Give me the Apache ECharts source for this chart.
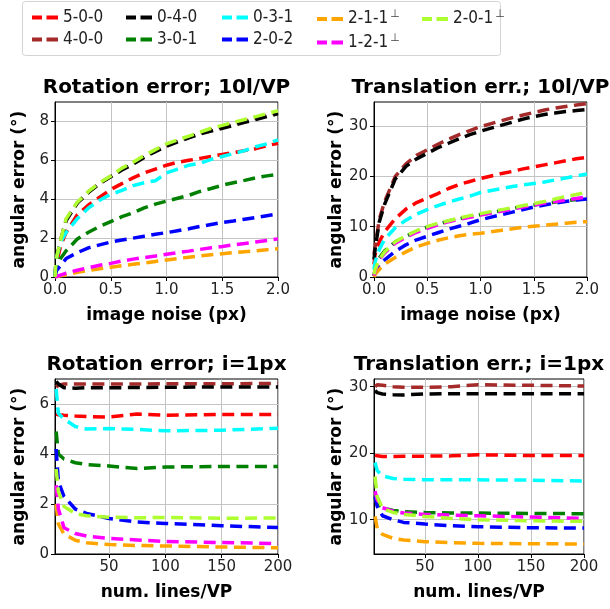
<!DOCTYPE html>
<html>
<head>
<meta charset="utf-8">
<script src="https://cdn.jsdelivr.net/npm/echarts@6/dist/echarts.min.js"></script>
<style>
  html, body { margin: 0; padding: 0; background: #fff; }
  #chart { width: 610px; height: 609px; }
</style>
</head>
<body>
<div id="chart"></div>
<script>
// series order as in the legend (column-major)
const names = ['5-0-0', '4-0-0', '0-4-0', '3-0-1', '0-3-1', '2-0-2', '2-1-1⊥', '1-2-1⊥', '2-0-1⊥'];
const colors = ['#ff0000', '#a52a2a', '#000000', '#008000', '#00ffff', '#0000ff', '#ffa500', '#ff00ff', '#adff2f'];

// x values
const noiseX = [0, 0.01, 0.05, 0.1, 0.2, 0.3, 0.4, 0.5, 0.6, 0.7, 0.8, 0.9, 1.0, 1.1, 1.2, 1.3, 1.4, 1.5, 1.6, 1.7, 1.8, 1.9, 2.0];
const linesX = [3, 5, 10, 20, 30, 50, 75, 100, 150, 200];

// rotation error vs image noise (10 lines/VP), one row per name
const rotNoise = [
  [0, 0.6, 1.6, 2.3, 3.2, 3.7, 4.1, 4.5, 4.8, 5.1, 5.35, 5.55, 5.75, 5.9, 6.0, 6.1, 6.2, 6.3, 6.4, 6.5, 6.6, 6.75, 6.88],
  [0, 0.88, 1.88, 2.95, 3.82, 4.38, 4.82, 5.18, 5.55, 5.85, 6.2, 6.5, 6.78, 7.0, 7.2, 7.4, 7.57, 7.72, 7.87, 8.02, 8.17, 8.32, 8.47],
  [0, 0.85, 1.85, 2.9, 3.8, 4.35, 4.8, 5.15, 5.5, 5.8, 6.15, 6.45, 6.72, 6.95, 7.15, 7.35, 7.5, 7.65, 7.8, 7.95, 8.1, 8.25, 8.4],
  [0, 0.4, 0.95, 1.35, 1.95, 2.3, 2.6, 2.85, 3.1, 3.3, 3.55, 3.75, 3.9, 4.05, 4.2, 4.4, 4.55, 4.72, 4.85, 4.97, 5.1, 5.2, 5.28],
  [0, 0.9, 1.8, 2.3, 3.0, 3.55, 3.95, 4.25, 4.45, 4.7, 4.85, 4.95, 5.35, 5.55, 5.75, 5.85, 6.05, 6.2, 6.35, 6.5, 6.7, 6.85, 7.05],
  [0, 0.3, 0.6, 0.95, 1.25, 1.5, 1.65, 1.8, 1.9, 2.0, 2.1, 2.2, 2.28, 2.38, 2.48, 2.6, 2.7, 2.8, 2.88, 2.97, 3.06, 3.15, 3.24],
  [0, 0.01, 0.06, 0.12, 0.24, 0.33, 0.42, 0.5, 0.58, 0.65, 0.72, 0.8, 0.88, 0.95, 1.02, 1.08, 1.14, 1.2, 1.25, 1.3, 1.35, 1.4, 1.45],
  [0, 0.02, 0.1, 0.2, 0.35, 0.48, 0.6, 0.7, 0.82, 0.92, 1.0, 1.08, 1.17, 1.25, 1.33, 1.42, 1.5, 1.57, 1.65, 1.72, 1.8, 1.88, 1.96],
  [0, 0.9, 1.9, 3.0, 3.85, 4.4, 4.85, 5.2, 5.6, 5.9, 6.25, 6.55, 6.85, 7.05, 7.25, 7.45, 7.65, 7.8, 7.95, 8.1, 8.25, 8.4, 8.55]
];

// translation error vs image noise (10 lines/VP)
const transNoise = [
  [2.5, 4.5, 7, 9, 11.6, 13.5, 14.8, 15.7, 16.6, 17.6, 18.4, 19.0, 19.6, 20.1, 20.6, 21.0, 21.5, 21.9, 22.3, 22.7, 23.1, 23.5, 23.8],
  [4.5, 6, 11.5, 15, 20, 22.5, 24.2, 25.3, 26.4, 27.4, 28.3, 29.1, 29.9, 30.5, 31.1, 31.7, 32.2, 32.7, 33.2, 33.6, 33.9, 34.2, 34.5],
  [3.5, 5.5, 11, 14.5, 19.5, 22, 23.5, 24.6, 25.7, 26.6, 27.5, 28.3, 29.0, 29.6, 30.2, 30.8, 31.4, 31.9, 32.3, 32.6, 32.9, 33.1, 33.3],
  [0.3, 1.5, 3.8, 5.2, 7, 8.1, 9.1, 9.9, 10.5, 11.1, 11.6, 12.0, 12.4, 12.8, 13.2, 13.6, 14.0, 14.3, 14.6, 14.9, 15.2, 15.4, 15.6],
  [1.5, 3, 5.5, 7.5, 9.8, 11.3, 12.5, 13.4, 14.2, 14.9, 15.5, 16.1, 16.8, 17.2, 17.6, 18.0, 18.3, 18.6, 18.9, 19.3, 19.7, 20.1, 20.5],
  [0.2, 1, 2.5, 3.4, 5.1, 6.4, 7.4, 8.1, 8.8, 9.5, 10.1, 10.7, 11.4, 11.9, 12.4, 12.9, 13.4, 13.9, 14.3, 14.7, 15.0, 15.3, 15.5],
  [0, 0.5, 1.5, 2.6, 3.9, 5.0, 6.0, 6.7, 7.3, 7.8, 8.2, 8.5, 8.7, 9.0, 9.3, 9.6, 9.9, 10.1, 10.3, 10.5, 10.7, 10.9, 11.0],
  [0.3, 1.2, 3.4, 4.8, 6.7, 7.9, 8.9, 9.7, 10.4, 11.0, 11.5, 11.9, 12.3, 12.7, 13.1, 13.5, 13.9, 14.3, 14.7, 15.0, 15.3, 15.6, 15.9],
  [0.5, 1.5, 3.5, 5, 7, 8.2, 9.2, 10.0, 10.7, 11.2, 11.7, 12.2, 12.6, 13.0, 13.4, 13.8, 14.2, 14.6, 15.0, 15.5, 16.0, 16.4, 16.9]
];

// rotation error vs lines per VP (i = 1px)
const rotLines = [
  [5.6, 5.57, 5.55, 5.52, 5.5, 5.48, 5.6, 5.55, 5.58, 5.58],
  [6.68, 6.75, 6.8, 6.8, 6.8, 6.8, 6.8, 6.81, 6.81, 6.82],
  [6.9, 6.8, 6.65, 6.63, 6.65, 6.65, 6.66, 6.67, 6.68, 6.68],
  [4.9, 4.0, 3.8, 3.65, 3.58, 3.52, 3.42, 3.48, 3.5, 3.5],
  [6.6, 5.62, 5.4, 5.1, 5.0, 5.02, 4.98, 4.93, 4.95, 5.03],
  [4.2, 2.9, 2.3, 1.8, 1.62, 1.42, 1.28, 1.22, 1.13, 1.06],
  [2.0, 1.2, 0.8, 0.55, 0.45, 0.38, 0.34, 0.32, 0.28, 0.25],
  [2.75, 1.8, 1.05, 0.82, 0.72, 0.62, 0.56, 0.5, 0.46, 0.42],
  [3.4, 2.5, 1.9, 1.62, 1.53, 1.47, 1.45, 1.46, 1.43, 1.44]
];

// translation error vs lines per VP (i = 1px)
const transLines = [
  [19.7, 19.6, 19.5, 19.5, 19.55, 19.55, 19.6, 19.75, 19.65, 19.65],
  [30.0, 30.3, 30.2, 30.0, 29.9, 29.9, 30.0, 30.3, 30.2, 30.1],
  [29.4, 29.1, 28.9, 28.8, 28.75, 28.9, 28.95, 28.95, 28.95, 28.95],
  [13.5, 12.5, 11.8, 11.4, 11.2, 11.1, 11.0, 11.0, 10.95, 10.9],
  [18.6, 17.4, 16.6, 16.2, 16.1, 16.0, 16.0, 16.0, 15.95, 15.8],
  [13.5, 12.0, 10.6, 10.0, 9.6, 9.35, 9.1, 8.95, 8.8, 8.75],
  [10.5, 8.7, 7.8, 7.2, 6.95, 6.7, 6.55, 6.45, 6.4, 6.35],
  [14.3, 13.0, 11.8, 11.3, 11.0, 10.8, 10.7, 10.6, 10.4, 10.2],
  [16.5, 13.5, 11.7, 11.1, 10.8, 10.5, 10.2, 10.0, 9.85, 9.75]
];

// tick labels
const noiseTicks = [0, 0.5, 1.0, 1.5, 2.0];
const linesTicks = [50, 100, 150, 200];
const rotNoiseTicks = [0, 2, 4, 6, 8];
const transNoiseTicks = [0, 10, 20, 30];
const rotLinesTicks = [0, 2, 4, 6];
const transLinesTicks = [10, 20, 30];

const titles = ['Rotation error; 10l/VP', 'Translation err.; 10l/VP', 'Rotation error; i=1px', 'Translation err.; i=1px'];

const font = 'DejaVu Sans';
const grids = [
  { left: 55, top: 102, width: 223, height: 175 },
  { left: 374, top: 102, width: 213, height: 175 },
  { left: 55, top: 379, width: 223, height: 175 },
  { left: 374, top: 379, width: 210, height: 175 }
];

function xAxisFor(idx, min, max, ticks, name, fmt) {
  return {
    type: 'value', gridIndex: idx, min: min, max: max,
    name: name, nameLocation: 'middle', nameGap: 30,
    nameTextStyle: { fontFamily: font, fontWeight: 'bold', fontSize: 17, color: '#000' },
    axisLine: { show: true, lineStyle: { color: '#000', width: 1 } },
    axisTick: { show: true, length: 4, customValues: ticks, lineStyle: { color: '#000' } },
    axisLabel: { customValues: ticks, fontFamily: font, fontSize: 15, color: '#222', margin: 6, formatter: fmt },
    splitLine: { show: true, lineStyle: { color: '#c4c4c4', width: 1 } }
  };
}
function yAxisFor(idx, min, max, ticks) {
  return {
    type: 'value', gridIndex: idx, min: min, max: max,
    name: 'angular error (°)', nameLocation: 'middle', nameGap: 27,
    nameTextStyle: { fontFamily: font, fontWeight: 'bold', fontSize: 17, color: '#000' },
    axisLine: { show: true, lineStyle: { color: '#000', width: 1 } },
    axisTick: { show: true, length: 4, customValues: ticks, lineStyle: { color: '#000' } },
    axisLabel: { customValues: ticks, fontFamily: font, fontSize: 15, color: '#222', margin: 6 },
    splitLine: { show: true, lineStyle: { color: '#c4c4c4', width: 1 } }
  };
}

const oneDec = v => v.toFixed(1);
const xAxes = [
  xAxisFor(0, 0, 2, noiseTicks, 'image noise (px)', oneDec),
  xAxisFor(1, 0, 2, noiseTicks, 'image noise (px)', oneDec),
  xAxisFor(2, 2, 200, linesTicks, 'num. lines/VP'),
  xAxisFor(3, 2, 200, linesTicks, 'num. lines/VP')
];
const yAxes = [
  yAxisFor(0, 0, 9, rotNoiseTicks),
  yAxisFor(1, 0, 34.8, transNoiseTicks),
  yAxisFor(2, 0, 7, rotLinesTicks),
  yAxisFor(3, 4.85, 31.15, transLinesTicks)
];

const panels = [
  { xs: noiseX, ys: rotNoise },
  { xs: noiseX, ys: transNoise },
  { xs: linesX, ys: rotLines },
  { xs: linesX, ys: transLines }
];

const series = [];
panels.forEach((p, gi) => {
  p.ys.forEach((vals, si) => {
    series.push({
      name: names[si], type: 'line', xAxisIndex: gi, yAxisIndex: gi,
      data: vals.map((v, k) => [p.xs[k], v]),
      symbol: 'none', smooth: false, animation: false,
      lineStyle: { color: colors[si], width: 3.5, type: [12, 6.5], cap: 'butt' },
      itemStyle: { color: colors[si] }
    });
  });
});

// legend: 5 columns x 2 rows, icon = two short dashes
const dashIcon = 'path://M0,0h10v4h-10z M14.5,0h11.5v4h-11.5z';
const legendCols = [[0, 1], [2, 3], [4, 5], [6, 7], [8]];
const legendLeft = [27, 121, 217, 312, 417];
const legends = legendCols.map((col, ci) => ({
  orient: 'vertical', left: legendLeft[ci], top: 4,
  icon: dashIcon, symbolKeepAspect: false,
  itemWidth: 26, itemHeight: 4, itemGap: 5,
  data: col.map(i => names[i]),
  formatter: n => n.endsWith('⊥') ? '{n|' + n.slice(0, -1) + '}{s|⊥}' : '{n|' + n + '}',
  textStyle: {
    color: '#222',
    rich: {
      n: { fontFamily: "'Liberation Sans Narrow', 'DejaVu Sans Condensed', sans-serif", fontSize: 17, color: '#222', height: 20 },
      s: { fontFamily: font, fontSize: 11, color: '#444', padding: [0, 0, 9, 2] }
    }
  }
}));

const titleCfg = titles.map((t, i) => ({
  text: t, left: grids[i].left + grids[i].width / 2 - 5, textAlign: 'center',
  top: grids[i].top - 29,
  textStyle: { fontFamily: font, fontWeight: 'bold', fontSize: 20, color: '#000' }
}));

const option = {
  backgroundColor: '#fff',
  animation: false,
  title: titleCfg,
  legend: legends,
  grid: grids.map(g => Object.assign({ show: true, borderColor: '#000', borderWidth: 1, containLabel: false }, g)),
  xAxis: xAxes,
  yAxis: yAxes,
  series: series,
  graphic: [{
    type: 'rect', left: 22, top: 1, z: -1,
    shape: { width: 478, height: 54, r: 3 },
    style: { fill: '#fff', stroke: '#d4d4d4', lineWidth: 1 }
  }]
};

var myChart = echarts.init(document.getElementById('chart'));
myChart.setOption(option);
</script>
</body>
</html>
